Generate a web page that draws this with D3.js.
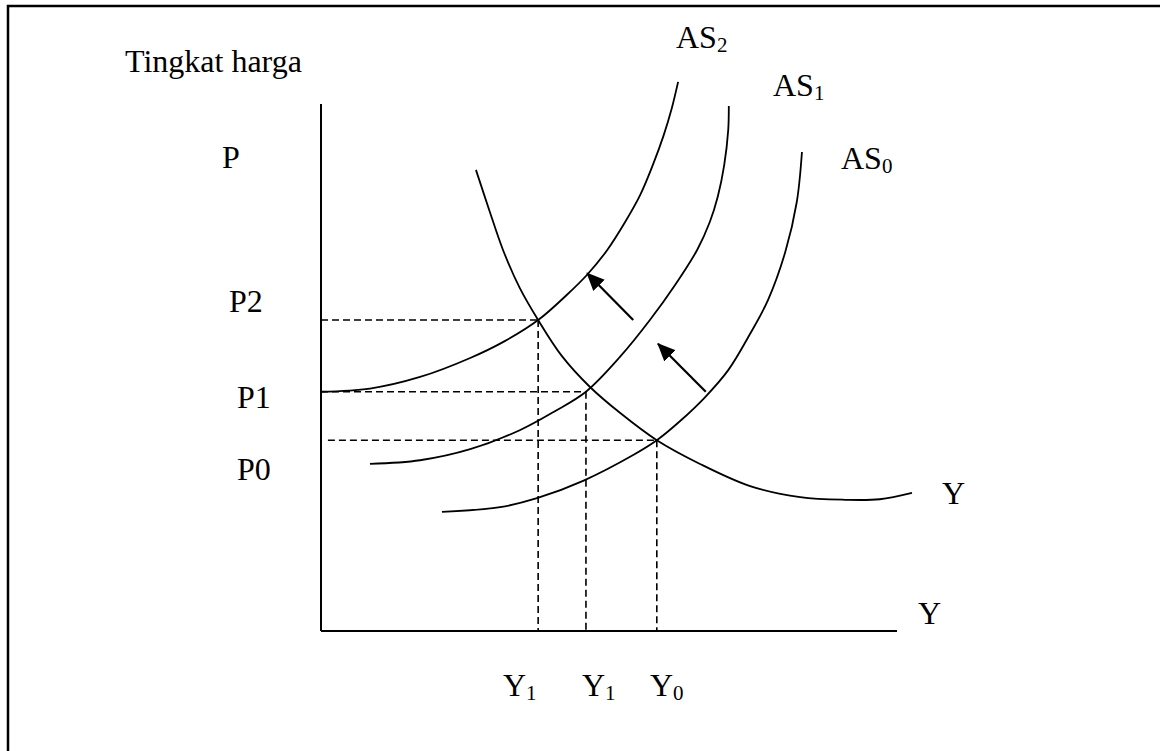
<!DOCTYPE html>
<html>
<head>
<meta charset="utf-8">
<script src="https://cdn.jsdelivr.net/npm/d3@7"></script>
<style>
  html, body { margin: 0; padding: 0; background: #fff; }
  svg { display: block; }
  text { font-family: "Liberation Serif", "Times New Roman", serif; fill: #000; }
</style>
</head>
<body>
<svg id="chart" width="1160" height="751"></svg>
<script>
// ---------- data (chart units: x = output Y, y = price level) ----------
const curveNames = ["AS2", "AS1", "AS0", "AD"];
const as2Points = [[0,45.4],[8.5,46.0],[17.2,48.2],[25.9,51.8],[31.9,55.0],[37.7,59.0],[42.7,63.8],[46.2,67.6],[49.7,72.3],[52.8,77.6],[55.4,82.7],[57.6,88.4],[59.5,94.1],[60.9,99.2],[62.0,104.2]];
const as1Points = [[8.5,31.7],[17.2,32.4],[25.9,34.5],[34.5,38.1],[40.6,41.7],[46.0,45.4],[51.9,52.0],[57.1,59.0],[61.5,65.7],[65.3,72.3],[67.5,77.6],[68.9,82.5],[70.0,88.4],[70.7,95.1],[70.8,99.6]];
const as0Points = [[21.0,22.6],[31.1,23.5],[37.5,25.2],[45.5,28.5],[54.2,33.4],[58.3,36.2],[62.3,39.8],[66.7,44.4],[70.7,49.5],[74.5,56.4],[77.6,62.8],[80.6,71.9],[82.6,81.4],[83.5,90.9]];
const adPoints  = [[26.9,87.5],[29.2,79.9],[31.6,72.3],[34.5,65.1],[37.7,59.0],[41.8,52.2],[46.7,46.3],[51.9,41.4],[58.3,36.2],[65.8,31.7],[74.5,27.5],[83.2,25.4],[91.0,24.9],[97.0,25.0],[102.6,26.2]];

const priceLabels = ["P2", "P1", "P0"];
const priceValues = [59.0, 45.4, 36.2];
const priceStart  = [0, 0, 1.2];
const outputLabels = [["Y","1"], ["Y","1"], ["Y","0"]];
const outputValues = [37.7, 46.0, 58.3];

const shiftArrows = [
  [[54.2, 59.0], [46.2, 67.9]],
  [[66.8, 45.4], [58.5, 54.5]]
];

// ---------- scales ----------
const x = d3.scaleLinear().domain([0, 100]).range([321, 897]);
const y = d3.scaleLinear().domain([0, 100]).range([631, 104]);

const svg = d3.select("#chart");

// frame
svg.append("rect")
  .attr("x", 8).attr("y", 6)
  .attr("width", 1200).attr("height", 800)
  .attr("fill", "none").attr("stroke", "#000").attr("stroke-width", 2.5);

// axes (plain lines, no ticks)
svg.append("line")
  .attr("x1", x(0)).attr("x2", x(0))
  .attr("y1", y(0)).attr("y2", y(100))
  .attr("stroke", "#000").attr("stroke-width", 2);
svg.append("line")
  .attr("x1", x(0)).attr("x2", x(100))
  .attr("y1", y(0)).attr("y2", y(0))
  .attr("stroke", "#000").attr("stroke-width", 2.2);

// dashed guides
const dash = "7,4";
priceValues.forEach((p, i) => {
  svg.append("line")
    .attr("x1", x(priceStart[i])).attr("x2", x(outputValues[i]))
    .attr("y1", y(p)).attr("y2", y(p))
    .attr("stroke", "#000").attr("stroke-width", 1.6).attr("stroke-dasharray", dash);
  svg.append("line")
    .attr("x1", x(outputValues[i])).attr("x2", x(outputValues[i]))
    .attr("y1", y(p)).attr("y2", y(0))
    .attr("stroke", "#000").attr("stroke-width", 1.6).attr("stroke-dasharray", dash);
});

// curves
const line = d3.line()
  .x(d => x(d[0])).y(d => y(d[1]))
  .curve(d3.curveCatmullRom.alpha(0.5));
[as2Points, as1Points, as0Points, adPoints].forEach((pts, i) => {
  svg.append("path")
    .attr("class", "curve " + curveNames[i])
    .attr("d", line(pts))
    .attr("fill", "none").attr("stroke", "#000").attr("stroke-width", 1.8);
});

// arrows
svg.append("defs").append("marker")
  .attr("id", "head")
  .attr("viewBox", "0 0 18 16")
  .attr("refX", 17).attr("refY", 8)
  .attr("markerWidth", 18).attr("markerHeight", 16)
  .attr("markerUnits", "userSpaceOnUse")
  .attr("orient", "auto")
  .append("path").attr("d", "M0,0 L18,8 L0,16 Z").attr("fill", "#000");
shiftArrows.forEach(a => {
  svg.append("line")
    .attr("x1", x(a[0][0])).attr("y1", y(a[0][1]))
    .attr("x2", x(a[1][0])).attr("y2", y(a[1][1]))
    .attr("stroke", "#000").attr("stroke-width", 2.2)
    .attr("marker-end", "url(#head)");
});

// ---------- text ----------
const FS = 32, SUB = 21;
function label(tx, ty, main, sub) {
  const t = svg.append("text").attr("x", tx).attr("y", ty).attr("font-size", FS);
  t.append("tspan").text(main);
  if (sub) t.append("tspan").attr("font-size", SUB).attr("dy", 4).text(sub);
  return t;
}
label(125, 72, "Tingkat harga");
label(222, 168, "P");
const priceLabelPos = [[229, 312], [237, 408], [237, 480]];
priceLabels.forEach((l, i) => label(priceLabelPos[i][0], priceLabelPos[i][1], l));

const outLabelX = [503, 582, 650];
outputLabels.forEach((l, i) => label(outLabelX[i], 696, l[0], l[1]));

label(676, 48, "AS", "2");
label(773, 96, "AS", "1");
label(841, 169, "AS", "0");
label(942, 504, "Y");
label(918, 624, "Y");
</script>
</body>
</html>
